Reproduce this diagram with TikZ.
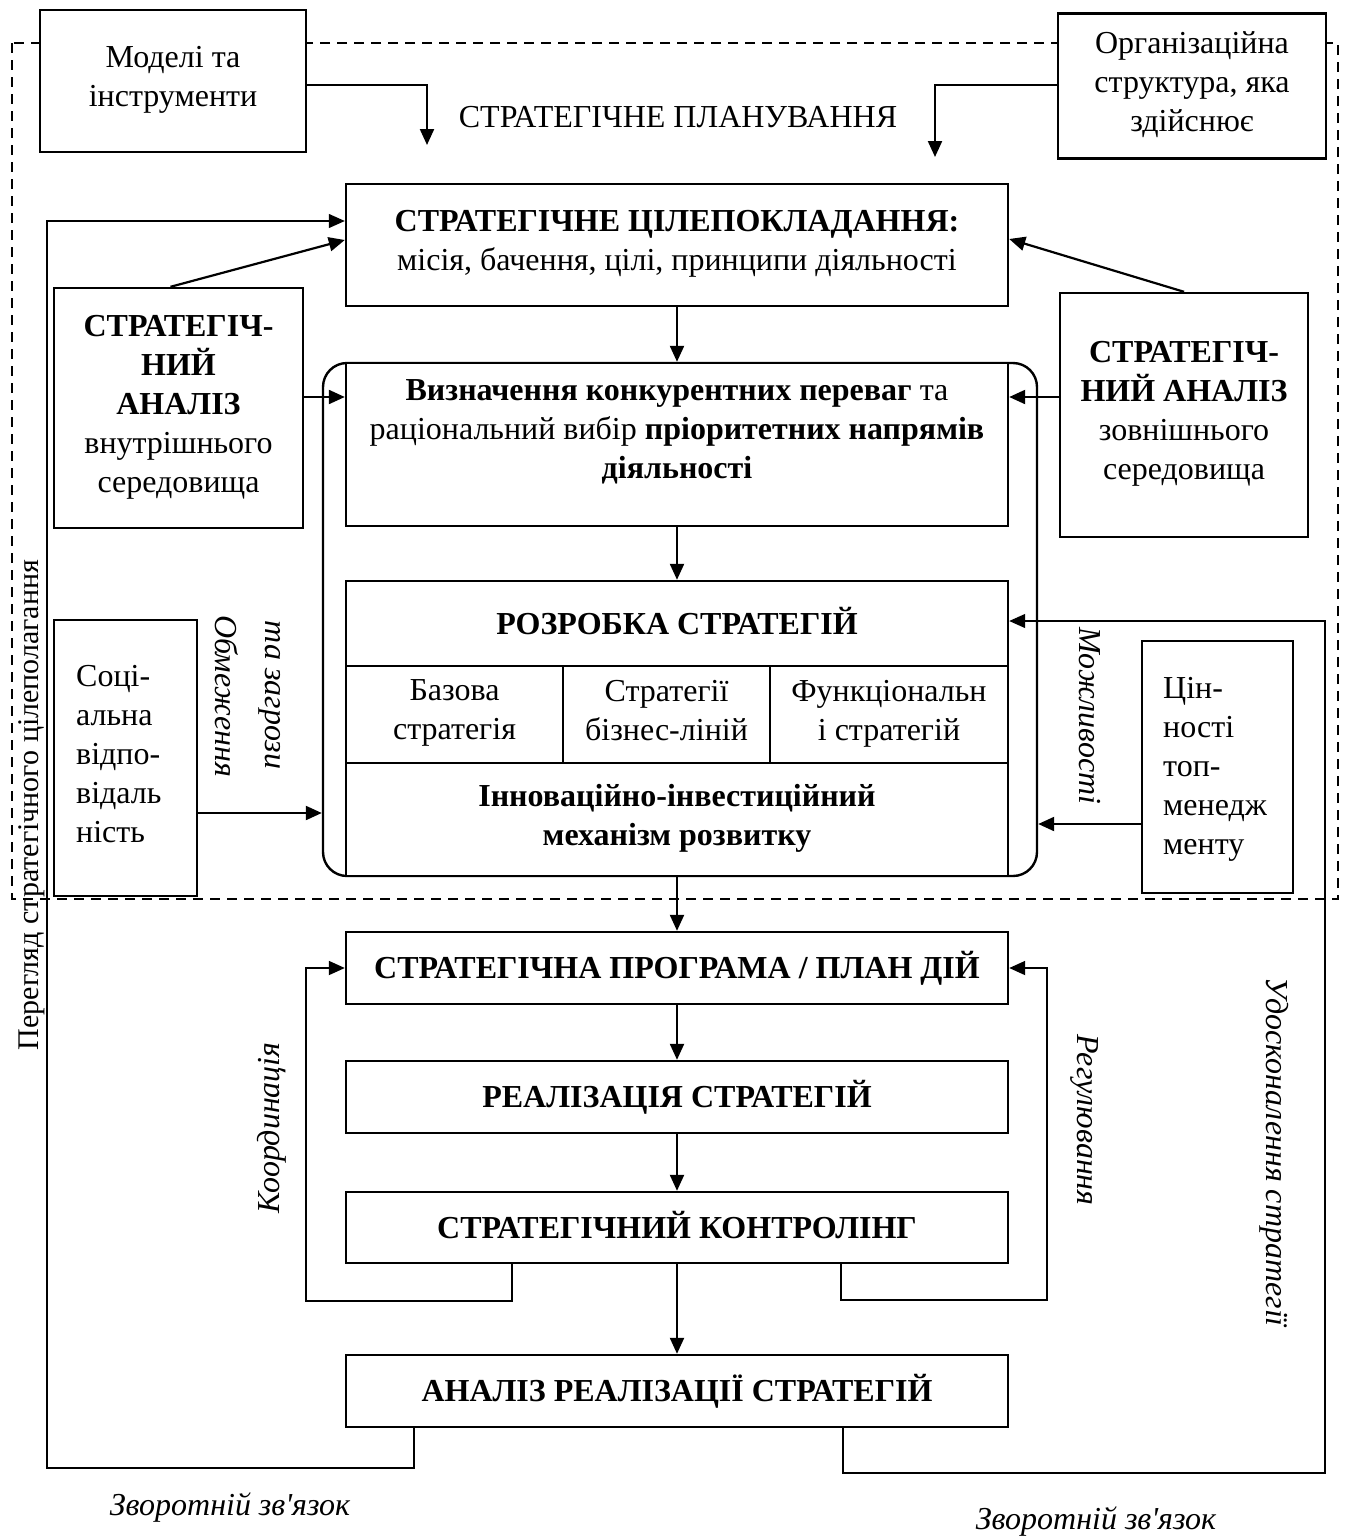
\documentclass[tikz,border=0pt]{standalone}
\usepackage{fontspec}
\setmainfont{Liberation Serif}
\newfontfamily\apfam{Liberation Serif}
\usetikzlibrary{arrows.meta,calc}
\newcommand\mystrut{\rule[-9pt]{0pt}{39pt}}
\begin{document}
\begin{tikzpicture}[x=1pt,y=-1pt,
  box/.style={draw, line width=2.4pt, fill=white, inner sep=0pt, align=center,
    execute at begin node=\mystrut, execute at end node=\mystrut},
  lbl/.style={inner sep=0pt, align=center},
  slbl/.style={inner sep=0pt, align=center, execute at begin node=\mystrut, execute at end node=\mystrut},
  ilbl/.style={inner sep=0pt, font=\fontsize{32}{39}\selectfont\itshape},
  arr/.style={line width=2.2pt, -{Triangle[length=16pt,width=14pt]}},
  marr/.style={line width=1.8pt, -{Triangle[length=16pt,width=14pt]}},
  tarr/.style={line width=1.2pt, -{Triangle[length=16pt,width=14pt]}},
  font=\fontsize{32}{39}\selectfont]
\useasboundingbox (0,0) rectangle (1344,1539);
% dashed frame
\draw[line width=2pt, dash pattern=on 10pt off 7pt] (12,43) rectangle (1338,899);
% top boxes
\node[box, minimum width=266pt, minimum height=142pt] (models) at (173,81) {Моделі та\\інструменти};
\node[box, minimum width=268pt, minimum height=145pt] (org) at (1192,86) {Організаційна\\структура, яка\\здійснює};
\node[lbl] (title) at (678,117) {СТРАТЕГІЧНЕ ПЛАНУВАННЯ};
\node[box, minimum width=662pt, minimum height=122pt] (goal) at (677,245) {\textbf{СТРАТЕГІЧНЕ ЦІЛЕПОКЛАДАННЯ:}\\місія, бачення, цілі, принципи діяльності};
\node[box, minimum width=249pt, minimum height=240pt] (intan) at (178.5,408) {\textbf{СТРАТЕГІЧ-}\\\textbf{НИЙ}\\\textbf{АНАЛІЗ}\\внутрішнього\\середовища};
\node[box, minimum width=248pt, minimum height=244pt] (extan) at (1184,415) {\textbf{СТРАТЕГІЧ-}\\\textbf{НИЙ АНАЛІЗ}\\зовнішнього\\середовища};
% container
\node[draw, line width=2.4pt, rounded corners=24pt, minimum width=714pt, minimum height=513pt, inner sep=0pt] (cont) at (680,619.5) {};
\node[box, minimum width=662pt, minimum height=163pt] (define) at (677,444.5) {};
\node[slbl] (deftxt) at (677,434) {\textbf{Визначення конкурентних переваг} та\\раціональний вибір \textbf{пріоритетних напрямів}\\\textbf{діяльності}};
\node[box, minimum width=662pt, minimum height=85pt] (devhead) at (677,623.5) {\textbf{РОЗРОБКА СТРАТЕГІЙ}};
\node[box, minimum width=217pt, minimum height=97pt] (base) at (454.5,714.5) {Базова\\стратегія};
\node[box, minimum width=207pt, minimum height=97pt] (biz) at (666.5,714.5) {Стратегії\\бізнес-ліній};
\node[box, minimum width=238pt, minimum height=97pt] (func) at (889,714.5) {Функціональн\\і стратегій};
\node[box, minimum width=662pt, minimum height=113pt] (innov) at (677,819.5) {\textbf{Інноваційно-інвестиційний}\\\textbf{механізм розвитку}};
% side boxes
\node[box, minimum width=143pt, minimum height=276pt] (social) at (125.5,758) {};
\node[slbl, anchor=west, align=left] (soctxt) at (76,758) {Соці-\\альна\\відпо-\\відаль\\ність};
\node[box, minimum width=151pt, minimum height=252pt] (values) at (1217.5,767) {};
\node[slbl, anchor=west, align=left] (valtxt) at (1163,770) {Цін-\\ності\\топ-\\менедж\\менту};
% lower boxes
\node[box, minimum width=662pt, minimum height=72pt] (prog) at (677,968) {\textbf{СТРАТЕГІЧНА ПРОГРАМА / ПЛАН ДІЙ}};
\node[box, minimum width=662pt, minimum height=72pt] (real) at (677,1097) {\textbf{РЕАЛІЗАЦІЯ СТРАТЕГІЙ}};
\node[box, minimum width=662pt, minimum height=71pt] (ctrl) at (677,1227.5) {\textbf{СТРАТЕГІЧНИЙ КОНТРОЛІНГ}};
\node[box, minimum width=662pt, minimum height=72pt] (anal) at (677,1391) {\textbf{АНАЛІЗ РЕАЛІЗАЦІЇ СТРАТЕГІЙ}};
% labels
\node[ilbl, rotate=-90] (obm1) at (227,696) {Обмеження};
\node[ilbl, rotate=-90] (obm2) at (270,695) {та загрози};
\node[ilbl, rotate=-90] (mozh) at (1090,716) {Можливості};
\node[ilbl, rotate=90] (koord) at (272,1128) {Координація};
\node[ilbl, rotate=-90] (reg) at (1085,1120) {Регулювання};
\node[ilbl, rotate=-90] (udos) at (1274,1152) {Удосконалення стратегії};
\node[lbl, rotate=90, font=\fontsize{30}{37}\selectfont] (pereg) at (32,805) {Перегляд стратегічного цілеполагання};
\node[ilbl] (zv1) at (230,1508) {Зворотній зв{\apfam '}язок};
\node[ilbl] (zv2) at (1096,1522) {Зворотній зв{\apfam '}язок};
% connectors
\coordinate (mT) at (427,145);
\draw[arr] ([yshift=-4pt]models.east) -| (mT);
\coordinate (oT) at (935,157);
\draw[arr] ([yshift=1pt]org.west) -| (oT);
\coordinate (fb1) at (414,1468); \coordinate (fb2) at (47,1468); \coordinate (fb3) at (47,221);
\draw[tarr] (anal.south -| fb1) -- (fb1) -- (fb2) -- (fb3) -- (fb3 -| goal.west);
\coordinate (fr1) at (843,1473); \coordinate (fr2) at (1325,1473); \coordinate (fr3) at (1325,621);
\draw[tarr] (anal.south -| fr1) -- (fr1) -- (fr2) -- (fr3) -- (fr3 -| devhead.east);
\draw[arr] ([xshift=-8pt]intan.north) -- ([yshift=5pt]goal.west);
\draw[arr] (extan.north) -- ([yshift=6pt]goal.east);
\draw[arr] (goal.south) -- (define.north);
\coordinate (ia) at ([yshift=11pt]intan.east);
\draw[arr] (ia) -- (ia -| define.west);
\coordinate (ea) at ([yshift=18pt]extan.west);
\draw[arr] (ea) -- (ea -| define.east);
\draw[arr] (define.south) -- (devhead.north);
\coordinate (sa) at ([yshift=-55pt]social.east);
\draw[arr] (sa) -- (sa -| cont.west);
\coordinate (va) at ([yshift=-57pt]values.west);
\draw[arr] (va) -- (va -| cont.east);
\draw[arr] (innov.south) -- (prog.north);
\draw[arr] (prog.south) -- (real.north);
\draw[arr] (real.south) -- (ctrl.north);
\draw[arr] (ctrl.south) -- (anal.north);
\coordinate (c1) at (512,1301); \coordinate (c2) at (306,1301); \coordinate (c3) at (306,968);
\draw[marr] (ctrl.south -| c1) -- (c1) -- (c2) -- (c3) -- (prog.west);
\coordinate (r1) at (841,1300); \coordinate (r2) at (1047,1300); \coordinate (r3) at (1047,968);
\draw[marr] (ctrl.south -| r1) -- (r1) -- (r2) -- (r3) -- (prog.east);
\end{tikzpicture}
\end{document}
